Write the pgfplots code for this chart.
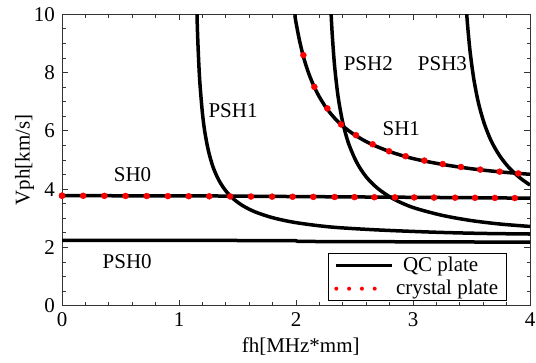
\documentclass[border=0pt]{standalone}
\usepackage{fontspec}
\setmainfont{Liberation Serif}
\usepackage{pgfplots}
\pgfplotsset{compat=1.18}
\begin{document}
\fontsize{21bp}{25bp}\selectfont
\begin{tikzpicture}
\useasboundingbox (-62bp,-57.3bp) rectangle (474bp,305.7bp);
\begin{axis}[
  at={(0,0)}, anchor=south west,
  scale only axis, width=468bp, height=291.4bp,
  xmin=0, xmax=4, ymin=0, ymax=10,
  xtick={0,1,2,3,4}, ytick={0,2,4,6,8,10},
  xticklabels={0,1,2,3,4}, yticklabels={0,2,4,6,8,10},
  minor x tick num=4, minor y tick num=3,
  tick align=inside,
  major tick length=6bp, minor tick length=3.5bp,
  axis line style={black!80, line width=1bp},
  every tick/.style={black!80, line width=0.8bp},
  font=\fontsize{21bp}{25bp}\selectfont,
  xlabel={fh[MHz*mm]}, ylabel={Vph[km/s]},
  xlabel style={at={(axis description cs:0.510,-0.1623)}, anchor=base},
  ylabel style={at={(axis description cs:-0.0694,0.5)}, anchor=base, rotate=0},
  legend style={at={(rel axis cs:0.950,0.016)}, anchor=south east,
    draw=black, line width=1bp, fill=white, inner xsep=6bp, inner ysep=1bp,
    row sep=1.5bp, cells={anchor=west},
    nodes={inner sep=2bp},
    font=\fontsize{21bp}{25bp}\selectfont},
]
% SH0 (QC)
\addplot[black, line width=3.5bp, legend image code/.code={\path (0bp,0bp) -- (56bp,0bp);\draw[black, line width=3.5bp] (0bp,0bp) -- (46bp,0bp);}]
  coordinates {(0,3.775) (1.15,3.77) (2,3.745) (3,3.72) (4,3.69)};
\addlegendentry{\hspace*{7bp}QC plate}
% crystal dots (legend entry)
\addplot[only marks, mark=*, mark size=3bp, draw=none, mark options={fill=red, draw=red},
  legend image code/.code={\path (0bp,0bp) -- (56bp,0bp);\draw[red, line width=4bp, line cap=round, dash pattern=on 0bp off 12.8bp] (0bp,0bp) -- (39bp,0bp);}]
  coordinates {(0,3.775)};
\addlegendentry{crystal plate}
% PSH0
\addplot[black, line width=3.5bp, forget plot] coordinates {(0,2.245) (1.99,2.235) (2.02,2.205) (4,2.18)};
% PSH1
\addplot[black, line width=3.5bp, smooth, forget plot] coordinates {
  (1.154,9.94) (1.16,9.18) (1.17,8.24) (1.18,7.56) (1.20,6.62) (1.22,5.98) (1.25,5.34)
  (1.29,4.77) (1.34,4.31) (1.40,3.94) (1.47,3.65) (1.55,3.42) (1.65,3.22) (1.80,3.02)
  (2.0,2.85) (2.3,2.70) (2.7,2.60) (3.2,2.52) (3.6,2.48) (4.0,2.46)};
\addplot[black, line width=3.5bp, forget plot] coordinates {(1.1535,10.5) (1.154,9.94)};
% SH1
\addplot[black, line width=3.5bp, smooth, forget plot] coordinates {
  (1.99,9.97) (2.0,9.72) (2.03,9.10) (2.07,8.45) (2.12,7.85) (2.18,7.31) (2.26,6.78)
  (2.36,6.31) (2.48,5.92) (2.62,5.59) (2.80,5.29) (3.0,5.05) (3.25,4.85) (3.5,4.70)
  (3.75,4.59) (4.0,4.51)};
\addplot[black, line width=3.5bp, forget plot] coordinates {(1.989,10.5) (1.99,9.97)};
% PSH2
\addplot[black, line width=3.5bp, smooth, forget plot] coordinates {
  (2.30,10.02) (2.31,9.29) (2.33,8.22) (2.36,7.17) (2.40,6.28) (2.45,5.56) (2.52,4.91)
  (2.60,4.42) (2.70,4.02) (2.83,3.67) (3.0,3.37) (3.25,3.10) (3.5,2.92) (3.75,2.80)
  (4.0,2.72)};
\addplot[black, line width=3.5bp, forget plot] coordinates {(2.299,10.5) (2.30,10.02)};
% PSH3
\addplot[black, line width=3.5bp, smooth, forget plot] coordinates {
  (3.459,10.01) (3.47,9.46) (3.49,8.65) (3.52,7.77) (3.56,6.95) (3.61,6.24) (3.67,5.64)
  (3.74,5.15) (3.82,4.74) (3.91,4.40) (4.0,4.14)};
\addplot[black, line width=3.5bp, forget plot] coordinates {(3.458,10.5) (3.459,10.01)};
% crystal plate dots
\addplot[only marks, mark=*, mark size=3bp, draw=none, mark options={fill=red, draw=red}, forget plot]
  coordinates {
  (0,3.775) (0.181,3.772) (0.362,3.769) (0.543,3.766) (0.724,3.763) (0.905,3.760)
  (1.083,3.757) (1.259,3.754) (1.437,3.750) (1.615,3.746) (1.796,3.742) (1.971,3.738)
  (2.148,3.734) (2.33,3.730) (2.50,3.726) (2.67,3.722) (2.846,3.718) (3.01,3.714)
  (3.18,3.710) (3.36,3.706) (3.53,3.702) (3.70,3.698) (3.87,3.694)
  (2.063,8.60) (2.157,7.51) (2.268,6.77) (2.385,6.22) (2.513,5.85) (2.655,5.54)
  (2.795,5.30) (2.937,5.13) (3.097,4.98) (3.254,4.86) (3.41,4.76) (3.575,4.67)
  (3.741,4.60) (3.90,4.54)};
\node[anchor=base] at (axis cs:0.603,4.27) {SH0};
\node[anchor=base] at (axis cs:0.557,1.29) {PSH0};
\node[anchor=base] at (axis cs:1.462,6.45) {PSH1};
\node[anchor=base] at (axis cs:2.618,8.07) {PSH2};
\node[anchor=base] at (axis cs:3.252,8.07) {PSH3};
\node[anchor=base] at (axis cs:2.90,5.84) {SH1};
\end{axis}
\end{tikzpicture}
\end{document}
